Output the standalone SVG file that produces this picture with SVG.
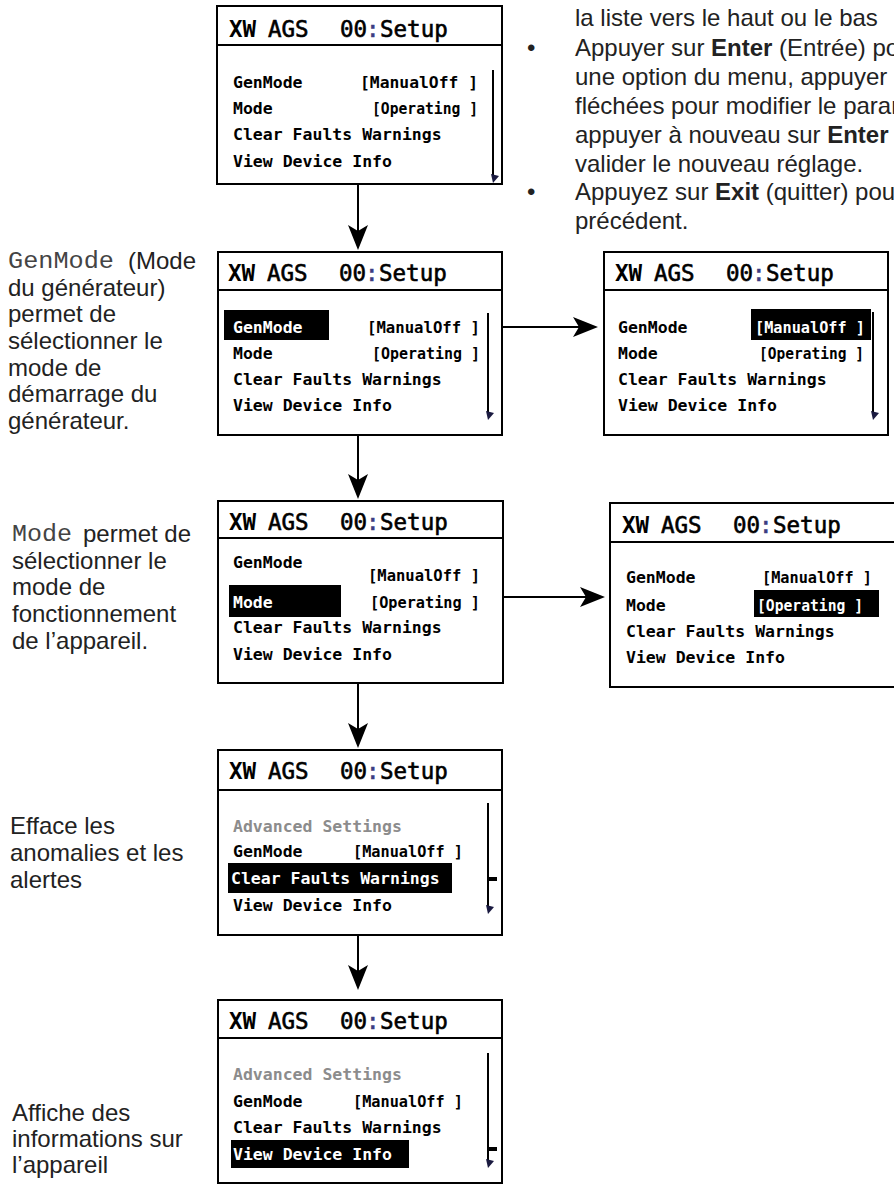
<svg xmlns="http://www.w3.org/2000/svg" width="894" height="1184" viewBox="0 0 894 1184">
<style>
.box{fill:#fff;stroke:#000;stroke-width:2}
.sep{stroke:#000;stroke-width:2}
.ttl{font-family:"DejaVu Sans Mono",monospace;font-size:22.5px;fill:#000;stroke:#000;stroke-width:0.6}
.b{font-weight:bold;stroke-width:0}
.col{fill:#3c3c80;stroke:#3c3c80}
.itm{font-family:"DejaVu Sans Mono",monospace;font-size:16.5px;font-weight:bold;fill:#000}
.inv{fill:#fff}
.adv{fill:#8c8c8c}
.hl{fill:#000}
.sb{stroke:#000;stroke-width:2;fill:none}
.tick{fill:#000}
.sbh{fill:#1a1a40}
.desc{font-family:"Liberation Sans",Arial,sans-serif;font-size:24px;fill:#222}
.mono{font-family:"Liberation Mono","Courier New",monospace;font-size:23px;fill:#444}
.conn{stroke:#000;stroke-width:2;fill:none;marker-end:url(#ah)}
</style>
<defs>
<marker id="ah" markerUnits="userSpaceOnUse" markerWidth="26" markerHeight="22" refX="17" refY="11" orient="auto">
<path d="M0,1 L25,11 L0,21 L6,11 Z" fill="#000"/>
</marker>
</defs>

<g id="instructions">
<text class="desc" x="575" y="26">la liste vers le haut ou le bas</text>
<text class="desc" x="527" y="56">•</text>
<text class="desc" x="575" y="56">Appuyer sur <tspan font-weight="bold">Enter</tspan> (Entrée) pour</text>
<text class="desc" x="575" y="85">une option du menu, appuyer</text>
<text class="desc" x="575" y="114">fléchées pour modifier le paramètre</text>
<text class="desc" x="575" y="143">appuyer à nouveau sur <tspan font-weight="bold">Enter</tspan></text>
<text class="desc" x="575" y="172">valider le nouveau réglage.</text>
<text class="desc" x="527" y="200">•</text>
<text class="desc" x="575" y="200">Appuyez sur <tspan font-weight="bold">Exit</tspan> (quitter) pour</text>
<text class="desc" x="575" y="229">précédent.</text>
</g>

<g id="desc-genmode">
<text class="mono" x="8" y="268" textLength="106" lengthAdjust="spacingAndGlyphs">GenMode</text>
<text class="desc" x="128" y="269">(Mode</text>
<text class="desc" x="8" y="296">du générateur)</text>
<text class="desc" x="8" y="322">permet de</text>
<text class="desc" x="8" y="349">sélectionner le</text>
<text class="desc" x="8" y="376">mode de</text>
<text class="desc" x="8" y="402">démarrage du</text>
<text class="desc" x="8" y="429">générateur.</text>
</g>

<g id="desc-mode">
<text class="mono" x="12" y="541" textLength="60" lengthAdjust="spacingAndGlyphs">Mode</text>
<text class="desc" x="83" y="542">permet de</text>
<text class="desc" x="12" y="569">sélectionner le</text>
<text class="desc" x="12" y="595">mode de</text>
<text class="desc" x="12" y="622">fonctionnement</text>
<text class="desc" x="12" y="649">de l’appareil.</text>
</g>

<g id="desc-clear">
<text class="desc" x="10" y="834">Efface les</text>
<text class="desc" x="10" y="861">anomalies et les</text>
<text class="desc" x="10" y="888">alertes</text>
</g>

<g id="desc-view">
<text class="desc" x="12" y="1121">Affiche des</text>
<text class="desc" x="12" y="1147">informations sur</text>
<text class="desc" x="12" y="1173">l’appareil</text>
</g>

<g id="screen-a">
<rect class="box" x="217" y="6" width="285" height="178"/>
<line class="sep" x1="217" y1="45" x2="502" y2="45"/>
<text class="ttl" y="37"><tspan class="b" x="229">XW</tspan><tspan x="268">AGS</tspan><tspan x="340">00</tspan><tspan class="col" x="366">:</tspan><tspan x="380">Setup</tspan></text>
<text class="itm" x="233" y="88">GenMode</text>
<text class="itm" x="360" y="88" textLength="118" lengthAdjust="spacingAndGlyphs">[ManualOff ]</text>
<text class="itm" x="233" y="114">Mode</text>
<text class="itm" x="372" y="114" textLength="106" lengthAdjust="spacingAndGlyphs">[Operating ]</text>
<text class="itm" x="233" y="140">Clear Faults Warnings</text>
<text class="itm" x="233" y="167">View Device Info</text>
<line class="sb" x1="493" y1="70" x2="493" y2="176"/>
<path class="sbh" d="M491,174 L499,176 L493,183 Z"/>
</g>

<g id="screen-b">
<rect class="box" x="218" y="252" width="284" height="183"/>
<line class="sep" x1="218" y1="290" x2="502" y2="290"/>
<text class="ttl" y="281"><tspan class="b" x="228">XW</tspan><tspan x="267">AGS</tspan><tspan x="339">00</tspan><tspan class="col" x="365">:</tspan><tspan x="379">Setup</tspan></text>
<rect class="hl" x="224" y="310" width="105" height="30"/>
<text class="itm inv" x="233" y="333">GenMode</text>
<text class="itm" x="367" y="333" textLength="113" lengthAdjust="spacingAndGlyphs">[ManualOff ]</text>
<text class="itm" x="233" y="359">Mode</text>
<text class="itm" x="372" y="359" textLength="108" lengthAdjust="spacingAndGlyphs">[Operating ]</text>
<text class="itm" x="233" y="385">Clear Faults Warnings</text>
<text class="itm" x="233" y="411">View Device Info</text>
<line class="sb" x1="488" y1="313" x2="488" y2="412"/>
<path class="sbh" d="M486,411 L494,413 L488,420 Z"/>
</g>

<g id="screen-c">
<rect class="box" x="604" y="252" width="284" height="183"/>
<line class="sep" x1="604" y1="290" x2="888" y2="290"/>
<text class="ttl" y="281"><tspan class="b" x="615">XW</tspan><tspan x="654">AGS</tspan><tspan x="726">00</tspan><tspan class="col" x="752">:</tspan><tspan x="766">Setup</tspan></text>
<text class="itm" x="618" y="333">GenMode</text>
<rect class="hl" x="751" y="309" width="120" height="31"/>
<text class="itm inv" x="755" y="333" textLength="110" lengthAdjust="spacingAndGlyphs">[ManualOff ]</text>
<text class="itm" x="618" y="359">Mode</text>
<text class="itm" x="759" y="359" textLength="105" lengthAdjust="spacingAndGlyphs">[Operating ]</text>
<text class="itm" x="618" y="385">Clear Faults Warnings</text>
<text class="itm" x="618" y="411">View Device Info</text>
<line class="sb" x1="873" y1="312" x2="873" y2="412"/>
<path class="sbh" d="M871,411 L879,413 L873,420 Z"/>
</g>

<g id="screen-d">
<rect class="box" x="218" y="501" width="285" height="182"/>
<line class="sep" x1="218" y1="538" x2="503" y2="538"/>
<text class="ttl" y="530"><tspan class="b" x="229">XW</tspan><tspan x="268">AGS</tspan><tspan x="340">00</tspan><tspan class="col" x="366">:</tspan><tspan x="380">Setup</tspan></text>
<text class="itm" x="233" y="568">GenMode</text>
<text class="itm" x="368" y="581" textLength="112" lengthAdjust="spacingAndGlyphs">[ManualOff ]</text>
<rect class="hl" x="229" y="585" width="112" height="32"/>
<text class="itm inv" x="233" y="608">Mode</text>
<text class="itm" x="370" y="608" textLength="110" lengthAdjust="spacingAndGlyphs">[Operating ]</text>
<text class="itm" x="233" y="633">Clear Faults Warnings</text>
<text class="itm" x="233" y="660">View Device Info</text>
</g>

<g id="screen-e">
<rect class="box" x="610" y="503" width="300" height="184"/>
<line class="sep" x1="610" y1="542" x2="900" y2="542"/>
<text class="ttl" y="533"><tspan class="b" x="622">XW</tspan><tspan x="661">AGS</tspan><tspan x="733">00</tspan><tspan class="col" x="759">:</tspan><tspan x="773">Setup</tspan></text>
<text class="itm" x="626" y="583">GenMode</text>
<text class="itm" x="762" y="583" textLength="110" lengthAdjust="spacingAndGlyphs">[ManualOff ]</text>
<text class="itm" x="626" y="611">Mode</text>
<rect class="hl" x="754" y="590" width="125" height="27"/>
<text class="itm inv" x="757" y="611" textLength="106" lengthAdjust="spacingAndGlyphs">[Operating ]</text>
<text class="itm" x="626" y="637">Clear Faults Warnings</text>
<text class="itm" x="626" y="663">View Device Info</text>
</g>

<g id="screen-f">
<rect class="box" x="218" y="750" width="284" height="185"/>
<line class="sep" x1="218" y1="790" x2="502" y2="790"/>
<text class="ttl" y="779"><tspan class="b" x="229">XW</tspan><tspan x="268">AGS</tspan><tspan x="340">00</tspan><tspan class="col" x="366">:</tspan><tspan x="380">Setup</tspan></text>
<text class="itm adv" x="233" y="832">Advanced Settings</text>
<text class="itm" x="233" y="857">GenMode</text>
<text class="itm" x="353" y="857" textLength="110" lengthAdjust="spacingAndGlyphs">[ManualOff ]</text>
<rect class="hl" x="228" y="863" width="224" height="30"/>
<text class="itm inv" x="231" y="884">Clear Faults Warnings</text>
<text class="itm" x="233" y="911">View Device Info</text>
<line class="sb" x1="488" y1="803" x2="488" y2="907"/>
<rect class="tick" x="488" y="877" width="9" height="4"/>
<path class="sbh" d="M486,905 L494,907 L488,914 Z"/>
</g>

<g id="screen-g">
<rect class="box" x="218" y="1000" width="284" height="183"/>
<line class="sep" x1="218" y1="1038" x2="502" y2="1038"/>
<text class="ttl" y="1029"><tspan class="b" x="229">XW</tspan><tspan x="268">AGS</tspan><tspan x="340">00</tspan><tspan class="col" x="366">:</tspan><tspan x="380">Setup</tspan></text>
<text class="itm adv" x="233" y="1080">Advanced Settings</text>
<text class="itm" x="233" y="1107">GenMode</text>
<text class="itm" x="353" y="1107" textLength="110" lengthAdjust="spacingAndGlyphs">[ManualOff ]</text>
<text class="itm" x="233" y="1133">Clear Faults Warnings</text>
<rect class="hl" x="231" y="1140" width="178" height="28"/>
<text class="itm inv" x="233" y="1160">View Device Info</text>
<line class="sb" x1="488" y1="1053" x2="488" y2="1161"/>
<rect class="tick" x="488" y="1147" width="9" height="4"/>
<path class="sbh" d="M486,1159 L494,1161 L488,1168 Z"/>
</g>

<g id="connectors">
<line class="conn" x1="358" y1="184" x2="358" y2="242"/>
<line class="conn" x1="358" y1="435" x2="358" y2="491"/>
<line class="conn" x1="358" y1="683" x2="358" y2="740"/>
<line class="conn" x1="358" y1="935" x2="358" y2="982"/>
<line class="conn" x1="503" y1="327" x2="590" y2="327"/>
<line class="conn" x1="503" y1="597" x2="597" y2="597"/>
</g>
</svg>
